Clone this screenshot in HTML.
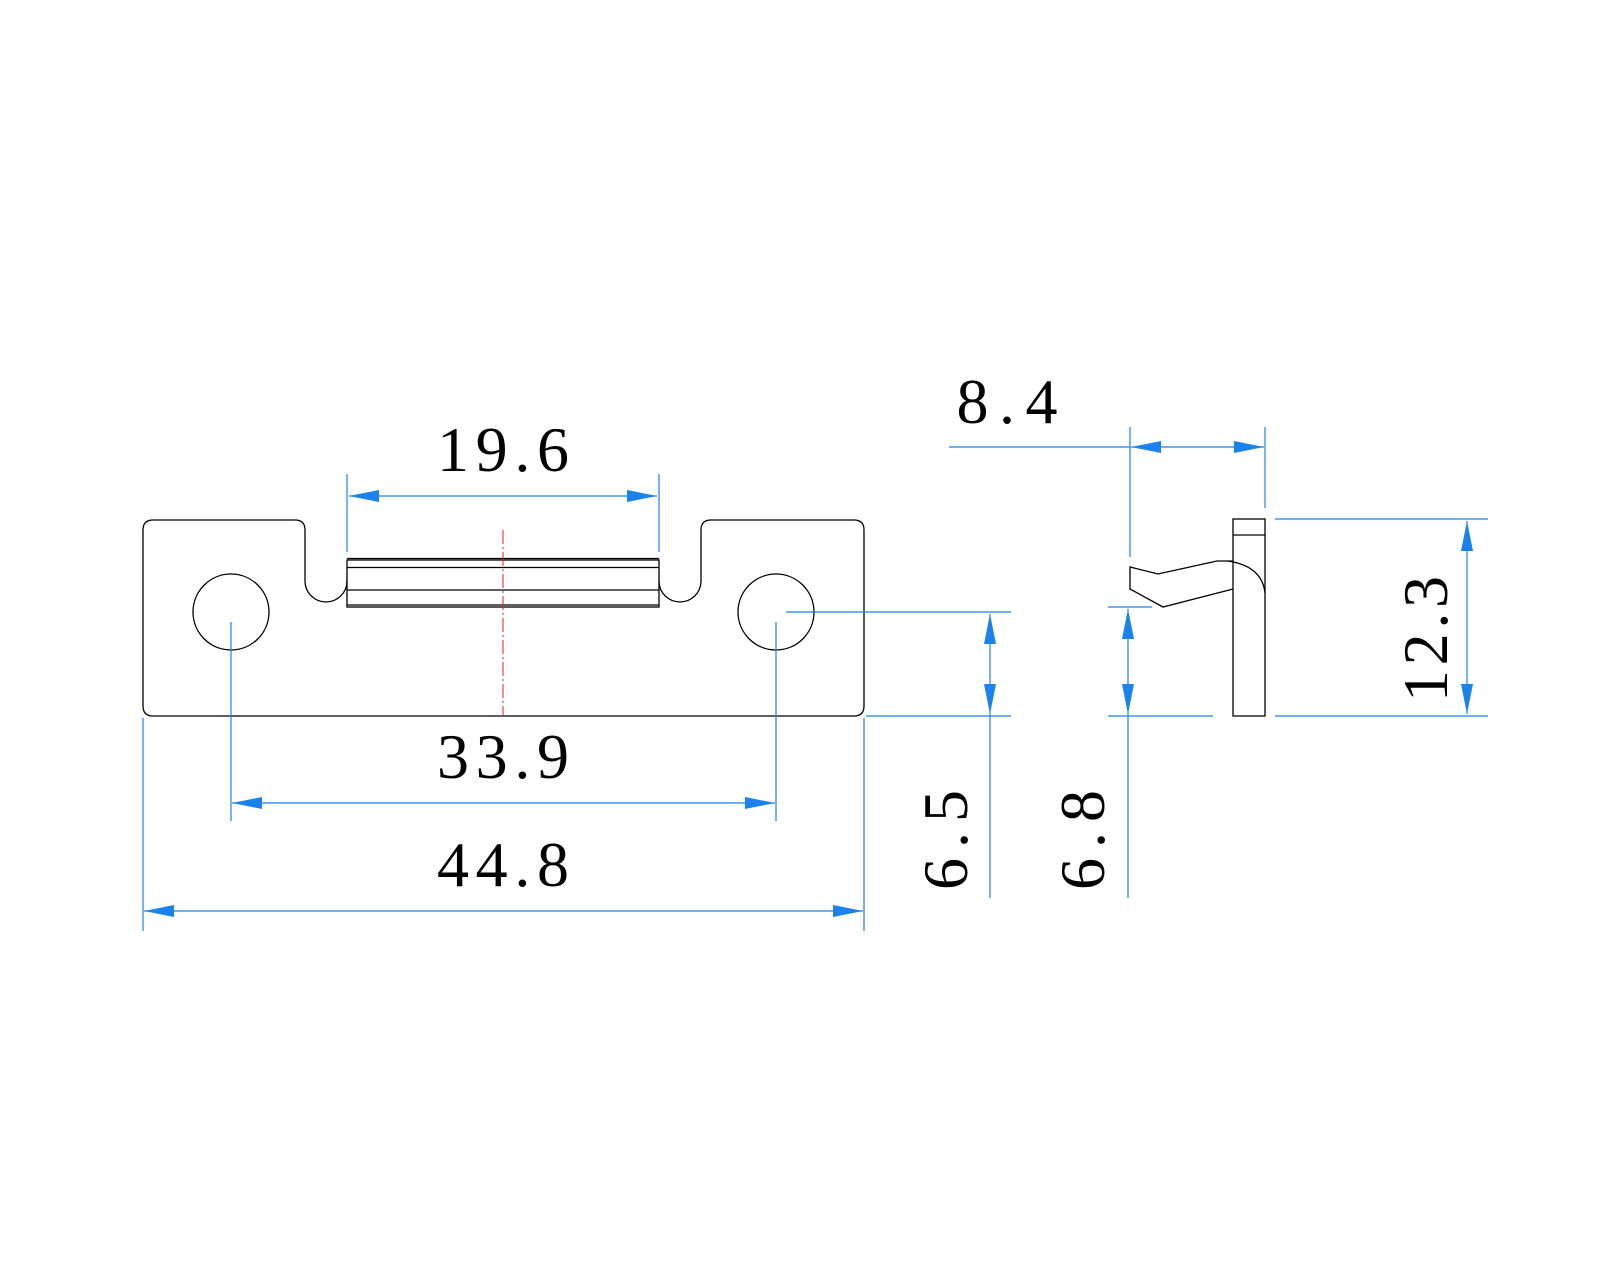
<!DOCTYPE html>
<html><head><meta charset="utf-8"><style>html,body{margin:0;padding:0;background:#fff}svg{display:block}</style></head>
<body>
<svg width="1600" height="1280" viewBox="0 0 1600 1280" xmlns="http://www.w3.org/2000/svg">
<defs>
<marker id="a" viewBox="0 0 30 12" refX="30" refY="6" markerWidth="30" markerHeight="12" markerUnits="userSpaceOnUse" orient="auto"><path d="M0,0 L30,6 L0,12 Z" fill="#1a82ea"/></marker>
</defs>
<g fill="none" stroke="#000" stroke-width="1.3">
<path d="M153,520 L295,520 Q305,520 305,530 L305,581 A21,21 0 0 0 347,581 L347,580 M659,581 A21,21 0 0 0 701,581 L701,530 Q701,520 711,520 L854,520 Q864,520 864,530 L864,706 Q864,716 854,716 L153,716 Q143,716 143,706 L143,530 Q143,520 153,520"/>
<rect x="347" y="560" width="312" height="47"/>
<line x1="347" y1="558.5" x2="659" y2="558.5"/>
<line x1="347" y1="567.5" x2="659" y2="567.5"/>
<line x1="347" y1="590" x2="659" y2="590"/>
<line x1="347" y1="605" x2="659" y2="605"/>
<circle cx="231" cy="612" r="38"/>
<circle cx="776" cy="612" r="38"/>
<rect x="1233" y="519" width="32" height="197"/>
<line x1="1233" y1="535" x2="1265" y2="535"/>
<path d="M1233,561 L1217,561 L1158,574 L1130,567 L1130,589 L1163,607 L1233,589"/>
<path d="M1228,561 Q1262,566 1265,593"/>
</g>
<line x1="503" y1="530" x2="503" y2="716" stroke="#d22" stroke-width="1" stroke-dasharray="14,3,2,3"/>
<g stroke="#1a82ea" stroke-width="1.2" fill="none">
<line x1="347" y1="474" x2="347" y2="552"/><line x1="659" y1="474" x2="659" y2="552"/>
<line x1="503" y1="496" x2="349" y2="496" marker-end="url(#a)"/><line x1="503" y1="496" x2="657" y2="496" marker-end="url(#a)"/>
<line x1="231" y1="622" x2="231" y2="821"/><line x1="776" y1="622" x2="776" y2="821"/>
<line x1="503" y1="803" x2="232" y2="803" marker-end="url(#a)"/><line x1="503" y1="803" x2="775" y2="803" marker-end="url(#a)"/>
<line x1="143" y1="718" x2="143" y2="931"/><line x1="864" y1="718" x2="864" y2="931"/>
<line x1="503" y1="911" x2="144" y2="911" marker-end="url(#a)"/><line x1="503" y1="911" x2="863" y2="911" marker-end="url(#a)"/>
<line x1="786" y1="612" x2="1011" y2="612"/><line x1="866" y1="716" x2="1011" y2="716"/>
<line x1="990" y1="660" x2="990" y2="614" marker-end="url(#a)"/><line x1="990" y1="660" x2="990" y2="714" marker-end="url(#a)"/>
<line x1="990" y1="714" x2="990" y2="898"/>
<line x1="1108" y1="607" x2="1152" y2="607"/><line x1="1108" y1="716" x2="1213" y2="716"/>
<line x1="1128" y1="660" x2="1128" y2="609" marker-end="url(#a)"/><line x1="1128" y1="660" x2="1128" y2="714" marker-end="url(#a)"/>
<line x1="1128" y1="714" x2="1128" y2="898"/>
<line x1="1130" y1="427" x2="1130" y2="557"/><line x1="1265" y1="427" x2="1265" y2="508"/>
<line x1="949" y1="447" x2="1130" y2="447"/>
<line x1="1200" y1="447" x2="1131" y2="447" marker-end="url(#a)"/><line x1="1200" y1="447" x2="1264" y2="447" marker-end="url(#a)"/>
<line x1="1275" y1="519" x2="1488" y2="519"/><line x1="1275" y1="716" x2="1488" y2="716"/>
<line x1="1467" y1="617" x2="1467" y2="521" marker-end="url(#a)"/><line x1="1467" y1="617" x2="1467" y2="714" marker-end="url(#a)"/>
</g>
<g font-family="Liberation Serif, serif" font-size="64" fill="#000" text-anchor="middle">
<text x="503" y="471" textLength="132" lengthAdjust="spacing">19.6</text>
<text x="503" y="778" textLength="132" lengthAdjust="spacing">33.9</text>
<text x="503" y="886" textLength="132" lengthAdjust="spacing">44.8</text>
<text x="1007" y="423" textLength="101" lengthAdjust="spacing">8.4</text>
<text transform="translate(1447,639) rotate(-90)" textLength="126" lengthAdjust="spacing">12.3</text>
<text transform="translate(967,840) rotate(-90)" textLength="100" lengthAdjust="spacing">6.5</text>
<text transform="translate(1104,840) rotate(-90)" textLength="100" lengthAdjust="spacing">6.8</text>
</g>
</svg>
</body></html>
